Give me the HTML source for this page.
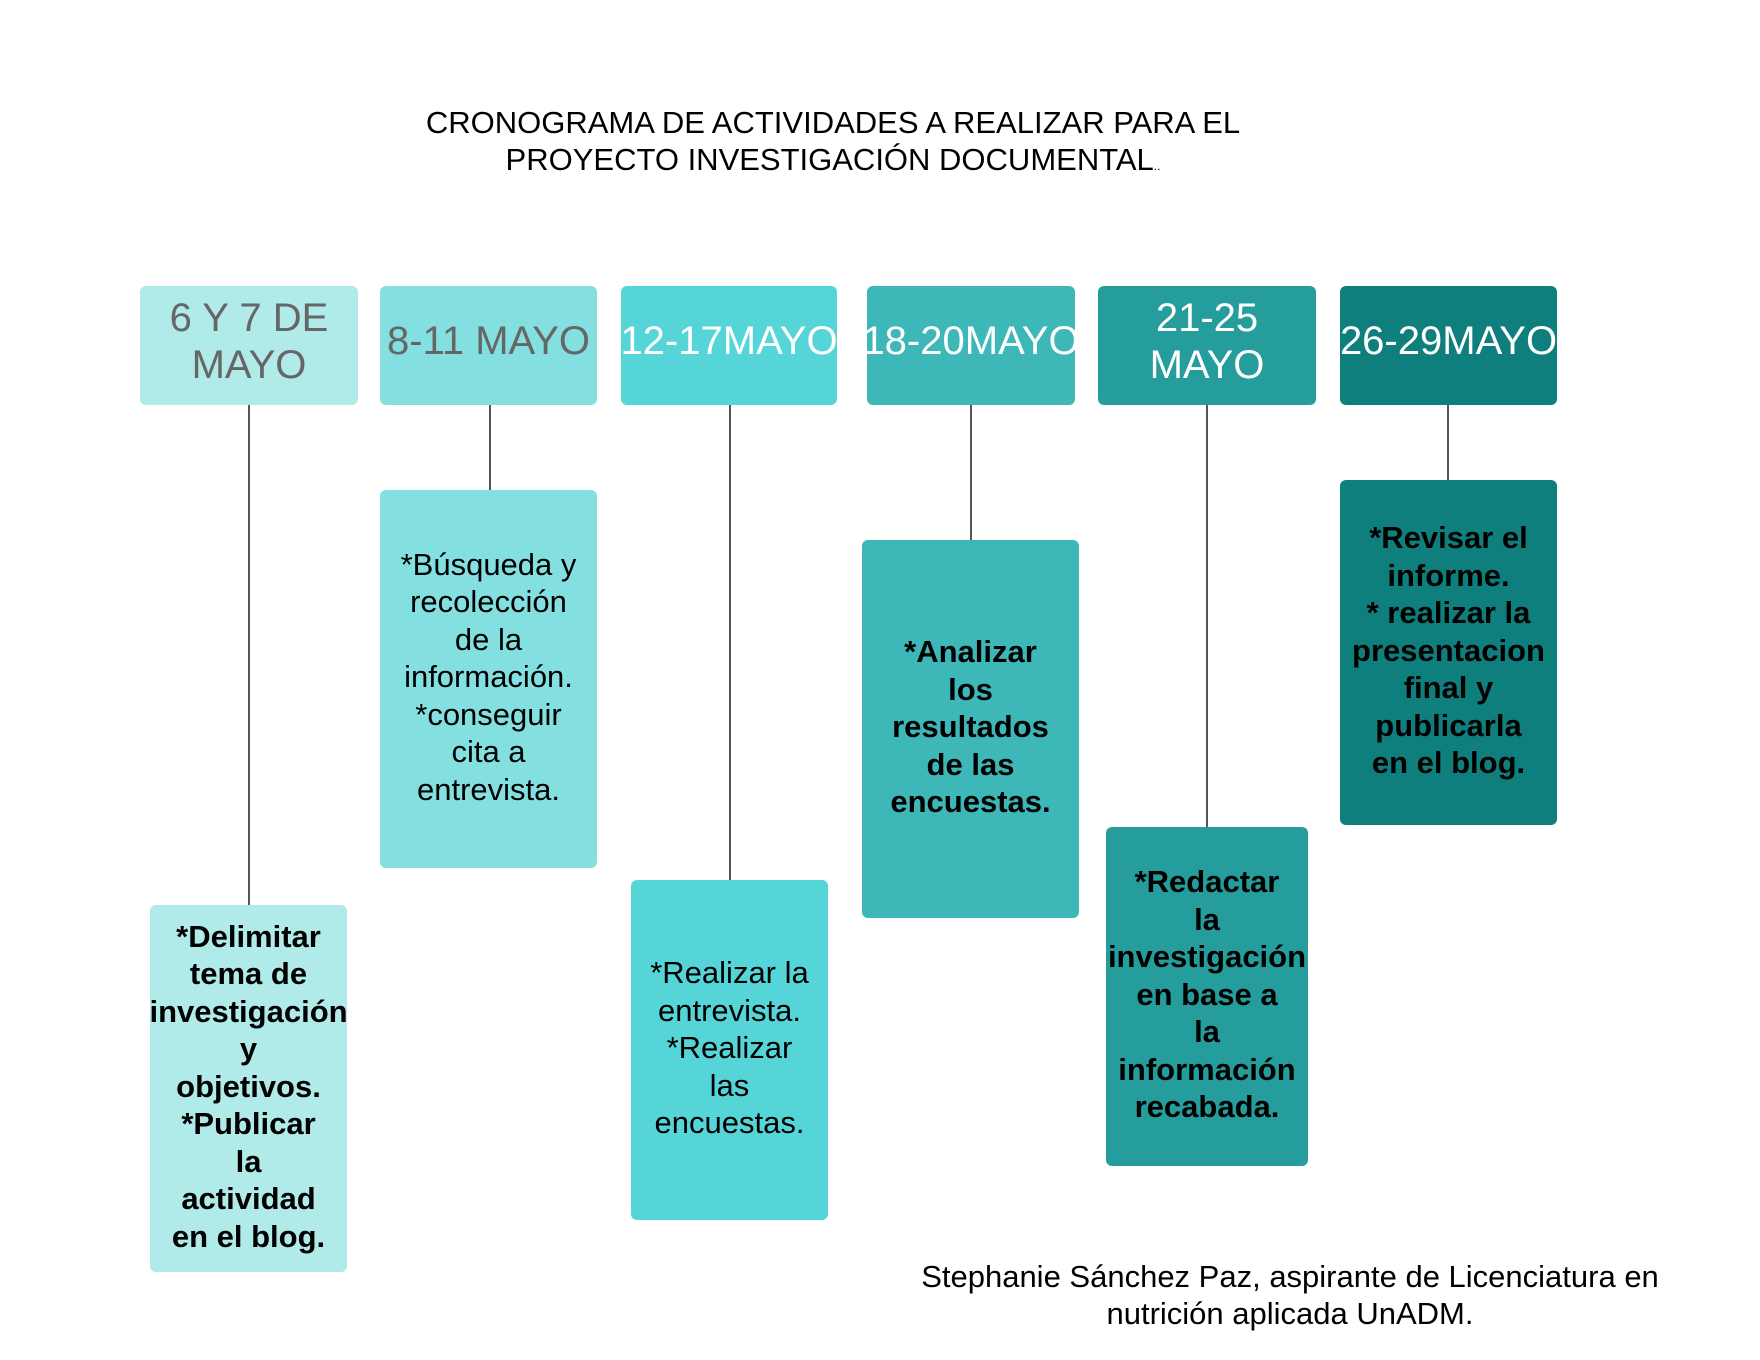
<!DOCTYPE html>
<html><head><meta charset="utf-8"><style>
body{margin:0;width:1760px;height:1360px;background:#fff;position:relative;overflow:hidden;font-family:"Liberation Sans",sans-serif}
.t{position:absolute;text-align:center;color:#000;white-space:nowrap}
.h{position:absolute;top:286px;height:119px;box-sizing:border-box;padding-bottom:8px;border-radius:6px;display:flex;align-items:center;justify-content:center;text-align:center;font-size:40px;line-height:47px;white-space:nowrap;color:#fff}
.d{position:absolute;box-sizing:border-box;padding-bottom:4px;border-radius:6px;display:flex;align-items:center;justify-content:center;text-align:center;font-size:31px;line-height:37.5px;white-space:nowrap;color:#000}
.b{font-weight:bold}
.l{position:absolute;width:2px;background:#555}
</style></head><body>
<div class="t" style="left:0;width:1666px;top:104px;font-size:31px;line-height:37px">CRONOGRAMA DE ACTIVIDADES A REALIZAR PARA EL<br>PROYECTO INVESTIGACIÓN DOCUMENTAL<span style="font-size:12px">..</span></div>

<div class="l" style="left:248px;top:405px;height:500px"></div>
<div class="l" style="left:489px;top:405px;height:86px"></div>
<div class="l" style="left:729px;top:405px;height:476px"></div>
<div class="l" style="left:970px;top:405px;height:136px"></div>
<div class="l" style="left:1206px;top:405px;height:422px"></div>
<div class="l" style="left:1447px;top:405px;height:76px"></div>

<div class="h" style="left:140px;width:218px;background:#b0eae9;color:#666">6 Y 7 DE<br>MAYO</div>
<div class="h" style="left:380px;width:217px;background:#84e0e0;color:#666">8-11 MAYO</div>
<div class="h" style="left:621px;width:216px;background:#56d5d8">12-17MAYO</div>
<div class="h" style="left:867px;width:208px;background:#3db7b8">18-20MAYO</div>
<div class="h" style="left:1098px;width:218px;background:#259d9c">21-25<br>MAYO</div>
<div class="h" style="left:1340px;width:217px;background:#0f7f7d">26-29MAYO</div>

<div class="d b" style="left:150px;top:905px;width:197px;height:367px;background:#b0eae9">*Delimitar<br>tema de<br>investigación<br>y<br>objetivos.<br>*Publicar<br>la<br>actividad<br>en el blog.</div>
<div class="d" style="left:380px;top:490px;width:217px;height:378px;background:#84e0e0">*Búsqueda y<br>recolección<br>de la<br>información.<br>*conseguir<br>cita a<br>entrevista.</div>
<div class="d" style="left:631px;top:880px;width:197px;height:340px;background:#56d5d8">*Realizar la<br>entrevista.<br>*Realizar<br>las<br>encuestas.</div>
<div class="d b" style="left:862px;top:540px;width:217px;height:378px;background:#3db7b8">*Analizar<br>los<br>resultados<br>de las<br>encuestas.</div>
<div class="d b" style="left:1106px;top:827px;width:202px;height:339px;background:#259d9c">*Redactar<br>la<br>investigación<br>en base a<br>la<br>información<br>recabada.</div>
<div class="d b" style="left:1340px;top:480px;width:217px;height:345px;background:#0f7f7d">*Revisar el<br>informe.<br>* realizar la<br>presentacion<br>final y<br>publicarla<br>en el blog.</div>

<div class="t" style="left:880px;width:820px;top:1258px;font-size:31px;line-height:37px">Stephanie Sánchez Paz, aspirante de Licenciatura en<br>nutrición aplicada UnADM.</div>
</body></html>
